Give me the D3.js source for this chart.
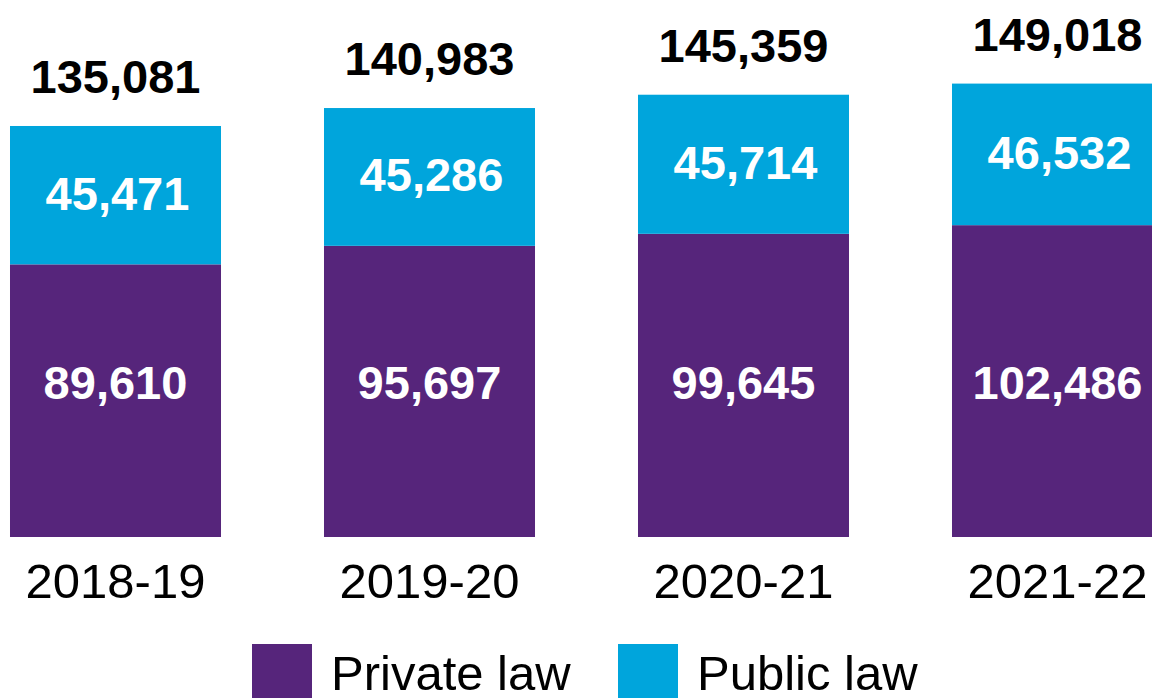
<!DOCTYPE html>
<html>
<head>
<meta charset="utf-8">
<script src="https://cdn.jsdelivr.net/npm/d3@7"></script>
<style>
  html, body { margin: 0; padding: 0; background: #fff; overflow: hidden; }
  svg { display: block; font-family: "Liberation Sans", Arial, sans-serif; }
</style>
</head>
<body>
<svg id="chart" width="1152" height="698"></svg>
<script>
// Caseload by year, split into private and public law
const years = ["2018-19", "2019-20", "2020-21", "2021-22"];
const privateLaw = [89610, 95697, 99645, 102486];
const publicLaw = [45471, 45286, 45714, 46532];
const totals = [135081, 140983, 145359, 149018];
const seriesNames = ["Private law", "Public law"];
const seriesColors = ["#56257b", "#00a5dc"];

const svg = d3.select("#chart");
const baseY = 537;

const x = d3.scaleBand()
  .domain(years)
  .range([-41.5, 1214.5])
  .paddingInner(0.328)
  .paddingOuter(0.164);

const y = d3.scaleLinear()
  .domain([0, 150000])
  .range([baseY, baseY - 456.4]);

const fmt = d3.format(",");

const rows = years.map((yr, i) => ({ year: yr, priv: privateLaw[i], pub: publicLaw[i], total: totals[i] }));

const g = svg.append("g");

// Private law segment (bottom)
g.selectAll("rect.priv").data(rows).join("rect")
  .attr("class", "priv")
  .attr("x", d => x(d.year))
  .attr("width", x.bandwidth())
  .attr("y", d => y(d.priv))
  .attr("height", d => y(0) - y(d.priv))
  .attr("fill", seriesColors[0]);

// Public law segment stacked on top
g.selectAll("rect.pub").data(rows).join("rect")
  .attr("class", "pub")
  .attr("x", d => x(d.year))
  .attr("width", x.bandwidth())
  .attr("y", d => y(d.priv + d.pub))
  .attr("height", d => y(d.priv) - y(d.priv + d.pub))
  .attr("fill", seriesColors[1]);

// Value labels inside the segments
g.selectAll("text.privLabel").data(rows).join("text")
  .attr("x", d => x(d.year) + x.bandwidth() / 2)
  .attr("y", 383)
  .attr("dy", "0.35em")
  .attr("text-anchor", "middle")
  .attr("fill", "#fff")
  .attr("font-weight", "bold")
  .attr("font-size", 47)
  .text(d => fmt(d.priv));

g.selectAll("text.pubLabel").data(rows).join("text")
  .attr("x", d => x(d.year) + x.bandwidth() / 2 + 2)
  .attr("y", d => (y(d.priv) + y(d.priv + d.pub)) / 2 - 2)
  .attr("dy", "0.35em")
  .attr("text-anchor", "middle")
  .attr("fill", "#fff")
  .attr("font-weight", "bold")
  .attr("font-size", 47)
  .text(d => fmt(d.pub));

// Totals above each bar
g.selectAll("text.totLabel").data(rows).join("text")
  .attr("x", d => x(d.year) + x.bandwidth() / 2)
  .attr("y", d => y(d.total) - 33)
  .attr("text-anchor", "middle")
  .attr("fill", "#000")
  .attr("font-weight", "bold")
  .attr("font-size", 47)
  .text(d => fmt(d.total));

// Category axis (labels only)
const xAxis = d3.axisBottom(x).tickSize(0).tickPadding(0);
const axG = svg.append("g").attr("transform", `translate(0,${baseY})`).call(xAxis);
axG.select(".domain").remove();
axG.selectAll("text")
  .attr("y", 61)
  .attr("dy", 0)
  .attr("font-size", 49)
  .attr("font-family", "Liberation Sans, Arial, sans-serif")
  .attr("fill", "#000");

// Legend
const legendX = [252, 618];
const leg = svg.append("g");
seriesNames.forEach((name, i) => {
  leg.append("rect")
    .attr("x", legendX[i]).attr("y", 644)
    .attr("width", 60).attr("height", 60)
    .attr("fill", seriesColors[i]);
  leg.append("text")
    .attr("x", legendX[i] + 79).attr("y", 690)
    .attr("font-size", 49)
    .attr("fill", "#000")
    .text(name);
});
</script>
</body>
</html>
